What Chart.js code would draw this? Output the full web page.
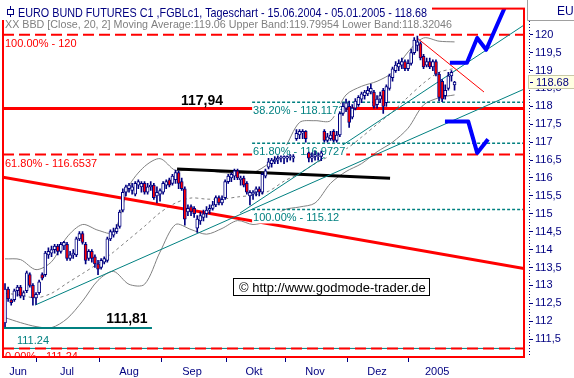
<!DOCTYPE html>
<html>
<head>
<meta charset="utf-8">
<script src="https://cdn.jsdelivr.net/npm/chart.js@4.4.0/dist/chart.umd.min.js"></script>
<style>
  html, body { margin: 0; padding: 0; background: #fff; }
</style>
</head>
<body>
<canvas id="chart" width="574" height="378"></canvas>
<script>
// daily bars 15.06.2004 - 05.01.2005
const open = [111.95,112.9,112.6,112.6,112.85,112.95,112.7,112.85,113.3,113.0,112.65,112.8,113.3,113.3,113.85,113.9,114.0,114.1,113.95,114.1,
  114.15,113.75,113.85,113.85,114.3,114.45,114.15,113.75,113.95,113.8,113.6,113.5,113.65,113.7,114.3,114.4,114.5,114.65,115.1,115.6,
  115.7,115.65,115.55,115.8,115.75,115.85,115.6,115.75,115.8,115.5,115.55,115.6,115.8,115.95,115.85,115.95,116.15,115.9,115.7,115.05,
  115.2,115.15,114.6,114.8,114.9,115.0,115.1,115.15,115.25,115.45,115.3,115.45,115.9,116.0,116.05,116.2,115.95,116.0,115.85,115.5,
  115.55,115.6,115.7,115.6,116.05,116.3,116.4,116.45,116.5,116.55,116.55,116.55,116.6,116.55,117.1,117.2,117.25,117.3,116.7,116.55,
  116.6,116.6,116.6,117.3,117.05,117.1,117.3,117.05,117.2,117.8,117.95,118.0,117.7,117.95,118.05,118.2,118.3,118.35,118.4,118.4,
  118.05,118.2,118.45,118.1,118.5,118.8,119.0,119.1,119.15,119.25,119.05,119.2,119.5,119.7,119.75,119.4,119.15,119.25,119.1,119.25,
  118.9,118.7,118.3,118.5,118.85,118.6];
const high = [113.05,112.95,112.62,112.9,113.0,113.0,112.85,113.4,113.35,113.05,112.8,113.15,113.35,113.95,114.05,114.1,114.15,114.15,114.2,114.23,
  114.2,113.95,114.0,114.35,114.5,114.5,114.2,114.0,114.0,113.85,113.7,113.75,113.8,114.35,114.55,114.6,114.7,115.1,115.7,115.8,
  115.85,115.85,115.9,115.95,115.9,115.9,115.85,115.9,115.85,115.75,115.7,115.9,115.95,116.0,116.1,116.22,116.2,116.0,115.75,115.25,
  115.25,115.2,114.95,115.05,115.1,115.2,115.25,115.35,115.5,115.5,115.5,115.95,116.1,116.15,116.25,116.25,116.05,116.05,115.9,115.65,
  115.65,115.75,115.75,116.15,116.25,116.55,116.55,116.6,116.62,116.62,116.62,116.62,116.65,116.65,117.35,117.35,117.35,117.32,116.72,116.7,
  116.75,116.7,116.75,117.35,117.25,117.3,117.35,117.3,117.85,118.1,118.2,118.15,118.05,118.22,118.3,118.4,118.45,118.55,118.62,118.45,
  118.3,118.4,118.5,118.6,118.9,119.1,119.25,119.3,119.35,119.3,119.3,119.6,119.92,119.96,119.8,119.45,119.35,119.35,119.3,119.3,
  118.95,118.75,118.6,118.95,119.0,118.7];
const low = [111.85,112.55,112.45,112.55,112.7,112.65,112.6,112.8,112.95,112.45,112.47,112.75,113.15,113.25,113.75,113.8,113.9,113.85,113.9,114.0,
  113.7,113.7,113.75,113.8,114.25,114.15,113.6,113.7,113.65,113.5,113.3,113.45,113.6,113.65,114.25,114.35,114.45,114.6,115.05,115.5,
  115.6,115.55,115.5,115.7,115.6,115.55,115.55,115.65,115.4,115.3,115.35,115.55,115.7,115.75,115.8,115.85,115.7,115.65,114.68,114.95,
  114.95,114.9,114.48,114.7,114.8,114.9,115.0,115.1,115.2,115.25,115.25,115.4,115.85,115.9,115.95,115.95,115.8,115.75,115.55,115.25,
  115.4,115.5,115.5,115.55,116.0,116.25,116.3,116.4,116.4,116.45,116.4,116.45,116.5,116.45,117.05,117.1,117.1,117.0,116.45,116.45,
  116.5,116.5,116.48,117.0,117.0,117.05,117.0,117.0,117.15,117.75,117.85,117.41,117.65,117.9,118.0,118.1,118.2,118.3,118.35,117.95,
  117.95,118.1,117.8,118.0,118.45,118.7,118.95,119.0,119.05,119.0,119.0,119.15,119.45,119.55,119.3,119.05,119.1,119.05,119.0,118.85,
  118.15,118.13,118.2,118.45,118.7,118.45];
const close = [112.9,112.62,112.52,112.85,112.95,112.7,112.8,113.35,113.0,112.65,112.75,113.1,113.2,113.9,113.95,114.0,114.1,113.95,114.15,114.2,
  113.75,113.85,113.9,114.3,114.45,114.2,113.7,113.95,113.75,113.6,113.45,113.7,113.75,114.3,114.5,114.5,114.6,115.05,115.6,115.75,
  115.8,115.75,115.85,115.9,115.85,115.6,115.75,115.8,115.45,115.6,115.65,115.85,115.9,115.8,116.05,116.15,115.85,115.7,114.85,115.15,
  115.05,115.0,114.85,114.95,115.0,115.1,115.15,115.25,115.45,115.3,115.4,115.9,116.05,116.1,116.2,116.0,116.0,115.8,115.6,115.6,
  115.6,115.7,115.6,116.1,116.2,116.45,116.5,116.5,116.55,116.58,116.6,116.6,116.62,116.6,117.25,117.3,117.3,117.1,116.55,116.6,
  116.65,116.62,116.7,117.05,117.15,117.2,117.05,117.2,117.8,118.0,118.1,117.55,117.95,118.15,118.25,118.35,118.4,118.45,118.5,118.0,
  118.2,118.3,118.0,118.55,118.85,119.05,119.15,119.2,119.25,119.05,119.2,119.5,119.85,119.8,119.35,119.1,119.25,119.1,119.25,118.9,
  118.25,118.2,118.45,118.85,118.95,118.68];

// Bollinger bands (20, 2), sampled every 5 bars
const bandX = [0,5,10,15,20,25,30,35,40,45,50,55,60,65,70,75,80,85,90,95,100,105,110,115,120,125,130,135,140,145];
const upperBand = [113.74,113.72,113.44,113.66,114.35,114.70,114.54,114.48,115.77,116.32,116.54,116.21,116.24,116.21,116.15,
  116.13,116.15,116.40,116.81,117.55,117.60,117.60,118.32,118.56,118.70,118.95,119.52,119.91,119.82,119.80];
const midBand = [112.78,112.73,112.65,112.78,113.06,113.33,113.61,113.93,114.29,114.65,115.03,115.30,115.44,115.41,115.41,
  115.47,115.52,115.63,115.91,116.13,116.40,116.62,116.81,117.14,117.50,117.85,118.26,118.65,118.95,119.06];
const lowerBand = [112.10,111.96,111.85,111.82,112.07,112.56,113.14,113.39,113.03,113.03,113.93,114.70,114.56,114.43,114.59,
  114.81,114.70,114.81,115.11,115.19,115.30,115.85,116.18,116.40,116.73,117.00,117.39,118.04,118.24,118.32];

// axes
const xMin = -0.65, xMax = 167.4;
const yMin = 111.0, yMax = 120.73;
const yTicks = [111.5,112,112.5,113,113.5,114,114.5,115,115.5,116,116.5,117,117.5,118,118.5,119,119.5,120];
const monthLabels = ['Jun','Jul','Aug','Sep','Okt','Nov','Dez','2005'];
const monthLabelPos = [4.2, 20, 40, 60.3, 80.3, 100, 120, 139.4];
const monthStartPos = [10.3, 30.6, 50.6, 71.3, 90.6, 110.6, 130];

// fibonacci levels
const fibRedLevels = [120, 116.6537, 111.24];
const fibRedNames = ['100.00%', '61.80%', '0.00%'];
const fibTealLevels = [118.1173, 116.9727, 115.12];
const fibTealNames = ['38.20%', '61.80%', '100.00%'];
const fibTealStart = 79.7;

// horizontal marks
const resistance = 117.94;
const support = 111.81, supportEnd = 47.4;
const lowMark = 111.24;

// trend lines: [x0, x1] in bars, [y0, y1] in price
const redTrendX = [xMin, xMax], redTrendY = [116.02, 113.47];
const blackX = [55.5, 124.2], blackY = [116.25, 115.99];
const thinRedX = [132.9, 154.5], thinRedY = [119.91, 118.40];
const tealAX = [9.7, xMax], tealAY = [112.45, 118.48];
const tealCX = [75.8, xMax], tealCY = [115.02, 120.27];

// projected paths
const blueUpX = [143.5, 149.0, 152.3, 155.2, 161.3];
const blueUpY = [119.22, 119.22, 119.91, 119.58, 120.78];
const blueDownX = [141.9, 149.4, 152.3, 155.8];
const blueDownY = [117.58, 117.58, 116.70, 117.08];

const chartTitle = 'EURO BUND FUTURES C1 ,FGBLc1, Tageschart - 15.06.2004 - 05.01.2005 - 118.68';
const subTitle = 'XX BBD [Close, 20, 2] Moving Average:119.06 Upper Band:119.79954 Lower Band:118.32046';

const navy = '#000080', teal = '#008080', red = '#ff0000', gray = '#808080', blue = '#0000ff';
const FONT = "'Liberation Sans', Arial, sans-serif";

function seg(xs, ys, color, width, dash, tension) {
  return {
    type: 'line',
    data: xs.map((x, i) => ({ x: x, y: ys[i] })),
    borderColor: color,
    borderWidth: width,
    borderDash: dash || [],
    pointRadius: 0,
    fill: false,
    tension: tension || 0,
    clip: 0,
    borderJoinStyle: 'round'
  };
}
const fmt = v => String(v).replace('.', ',');

// squeeze text into a given width (the original uses a narrow screen font)
function narrowText(ctx, text, x, y, width) {
  const w = ctx.measureText(text).width;
  ctx.save();
  ctx.translate(x, y);
  ctx.scale(Math.min(1, width / w), 1);
  ctx.fillText(text, 0, 0);
  ctx.restore();
}

const datasets = [
  { // bodies
    type: 'bar',
    data: open.map((o, i) => ({ x: i, y: [o, close[i]] })),
    backgroundColor: open.map((o, i) => close[i] >= o ? '#ffffff' : red),
    borderColor: navy,
    borderWidth: 1,
    borderSkipped: false,
    barThickness: 3,
    grouped: false
  },
  { // wicks
    type: 'bar',
    data: low.map((l, i) => ({ x: i, y: [l, high[i]] })),
    backgroundColor: navy,
    borderWidth: 0,
    barThickness: 1,
    grouped: false
  },
  seg(blueUpX, blueUpY, blue, 4),
  seg(blueDownX, blueDownY, blue, 4),
  seg(thinRedX, thinRedY, red, 1),
  seg(tealAX, tealAY, teal, 1),
  seg(tealCX, tealCY, teal, 1),
  seg(blackX, blackY, '#000000', 3),
  seg(redTrendX, redTrendY, red, 3),
  seg([xMin, xMax], [resistance, resistance], red, 3),
  seg([xMin, supportEnd], [support, support], teal, 2),
  ...fibRedLevels.map(v => seg([xMin, xMax], [v, v], red, 2, [11, 5])),
  seg([xMin, xMax], [lowMark, lowMark], teal, 1),
  ...fibTealLevels.map(v => seg([fibTealStart, xMax], [v, v], teal, 1.5, [3, 2])),
  seg(bandX, midBand, gray, 1, [3, 3], 0.3),
  seg(bandX, upperBand, gray, 1, null, 0.3),
  seg(bandX, lowerBand, gray, 1, null, 0.3)
];

const decor = {
  id: 'decor',
  afterDatasetDraw(chart, args) {
    if (args.index !== 2) return;
    const { ctx, chartArea: a, scales: { x, y } } = chart;
    ctx.save();
    ctx.beginPath();
    ctx.rect(a.left, a.top, a.right - a.left, a.bottom - a.top);
    ctx.clip();
    ctx.font = '11px ' + FONT;
    ctx.textBaseline = 'alphabetic';
    ctx.textAlign = 'left';
    fibRedLevels.forEach((lv, k) => {
      ctx.fillStyle = red;
      ctx.fillText(fibRedNames[k] + ' - ' + lv, a.left + 2, y.getPixelForValue(lv) + 12);
    });
    const x0 = x.getPixelForValue(fibTealStart);
    fibTealLevels.forEach((lv, k) => {
      const t = fibTealNames[k] + ' - ' + lv;
      const by = y.getPixelForValue(lv) + 12;
      const w = ctx.measureText(t).width;
      ctx.fillStyle = '#ffffff';
      ctx.fillRect(x0, by - 10, w + 2, 12);
      ctx.fillStyle = teal;
      ctx.fillText(t, x0 + 1, by);
    });
    ctx.restore();
  },
  afterDraw(chart) {
    const { ctx, chartArea: a, scales: { y } } = chart;
    ctx.save();
    // frame
    ctx.strokeStyle = red;
    ctx.lineWidth = 2;
    ctx.strokeRect(a.left, a.top, a.right - a.left, a.bottom - a.top);

    // title
    ctx.textAlign = 'left';
    ctx.textBaseline = 'alphabetic';
    ctx.fillStyle = '#ffffff';
    ctx.fillRect(0, 0, 432, 20);
    ctx.strokeStyle = navy;
    ctx.lineWidth = 1;
    ctx.beginPath();
    ctx.moveTo(10.5, 6); ctx.lineTo(10.5, 17);
    ctx.stroke();
    ctx.fillStyle = '#ffffff';
    ctx.fillRect(7.5, 9.5, 6, 5);
    ctx.strokeRect(7.5, 9.5, 6, 5);
    ctx.font = '13px ' + FONT;
    ctx.fillStyle = navy;
    narrowText(ctx, chartTitle, 18, 17, 409);

    ctx.font = '11px ' + FONT;
    ctx.fillStyle = gray;
    narrowText(ctx, subTitle, 5, 28, 447);

    // right header box
    ctx.strokeStyle = '#a0a0a0';
    ctx.beginPath();
    ctx.moveTo(527.5, 0); ctx.lineTo(527.5, 20.5); ctx.lineTo(574, 20.5);
    ctx.stroke();
    ctx.font = '12px ' + FONT;
    ctx.fillStyle = navy;
    ctx.fillText('EU', 557, 15);

    // dotted axis line
    ctx.strokeStyle = navy;
    ctx.setLineDash([1, 2]);
    ctx.beginPath();
    ctx.moveTo(529.5, 21); ctx.lineTo(529.5, a.bottom);
    ctx.stroke();
    ctx.setLineDash([]);

    // last price box
    const last = close[close.length - 1];
    const py = Math.round(y.getPixelForValue(last));
    ctx.fillStyle = '#ffffe1';
    ctx.fillRect(528, py - 7, 46, 14);
    ctx.strokeStyle = '#c8c8a8';
    ctx.strokeRect(528.5, py - 6.5, 46, 13);
    ctx.fillStyle = navy;
    ctx.fillRect(530, py, 3, 1);
    ctx.font = '11px ' + FONT;
    ctx.textBaseline = 'middle';
    ctx.fillText(last.toFixed(2), 536, py + 0.5);

    // level labels
    ctx.textBaseline = 'alphabetic';
    ctx.textAlign = 'center';
    ctx.font = 'bold 14px ' + FONT;
    ctx.fillStyle = '#000000';
    ctx.fillText(fmt(resistance), 202, y.getPixelForValue(resistance) - 4);
    ctx.fillText(fmt(support), 127, y.getPixelForValue(support) - 5);
    ctx.textAlign = 'left';
    ctx.font = '11px ' + FONT;
    ctx.fillStyle = teal;
    ctx.fillText(String(lowMark), 17, y.getPixelForValue(lowMark) - 4);

    // copyright box
    ctx.fillStyle = '#ffffff';
    ctx.fillRect(233, 278, 197, 18);
    ctx.strokeStyle = '#000000';
    ctx.lineWidth = 1;
    ctx.strokeRect(233.5, 278.5, 196, 17);
    ctx.font = '13px ' + FONT;
    ctx.fillStyle = '#000000';
    ctx.fillText('\u00A9 http://www.godmode-trader.de', 239, 292);
    ctx.restore();
  }
};

new Chart(document.getElementById('chart'), {
  type: 'bar',
  data: { datasets: datasets },
  options: {
    responsive: false,
    animation: false,
    events: [],
    layout: { padding: { left: 3, top: 2, right: 0, bottom: 0 } },
    plugins: { legend: { display: false }, tooltip: { enabled: false } },
    scales: {
      x: {
        type: 'linear',
        min: xMin,
        max: xMax,
        offset: false,
        afterFit: s => { s.height = 21; },
        afterBuildTicks: s => {
          s.ticks = monthLabelPos.map(v => ({ value: v })).concat(monthStartPos.map(v => ({ value: v })));
        },
        ticks: {
          autoSkip: false,
          maxRotation: 0,
          padding: 3,
          color: navy,
          font: { family: FONT, size: 11 },
          callback: (v, i) => i < monthLabels.length ? monthLabels[i] : ''
        },
        grid: {
          drawOnChartArea: false,
          offset: false,
          tickLength: 5,
          tickColor: c => c.index < monthLabels.length ? 'rgba(0,0,0,0)' : navy
        },
        border: { display: false }
      },
      y: {
        position: 'right',
        min: yMin,
        max: yMax,
        beginAtZero: false,
        afterFit: s => { s.width = 50; },
        afterBuildTicks: s => { s.ticks = yTicks.map(v => ({ value: v })); },
        ticks: {
          padding: 2,
          color: navy,
          font: { family: FONT, size: 11 },
          callback: v => fmt(v)
        },
        grid: {
          drawOnChartArea: false,
          tickLength: 9,
          tickColor: navy,
          tickBorderDash: [0, 6, 3, 100]
        },
        border: { display: false }
      }
    }
  },
  plugins: [decor]
});
</script>
</body>
</html>
